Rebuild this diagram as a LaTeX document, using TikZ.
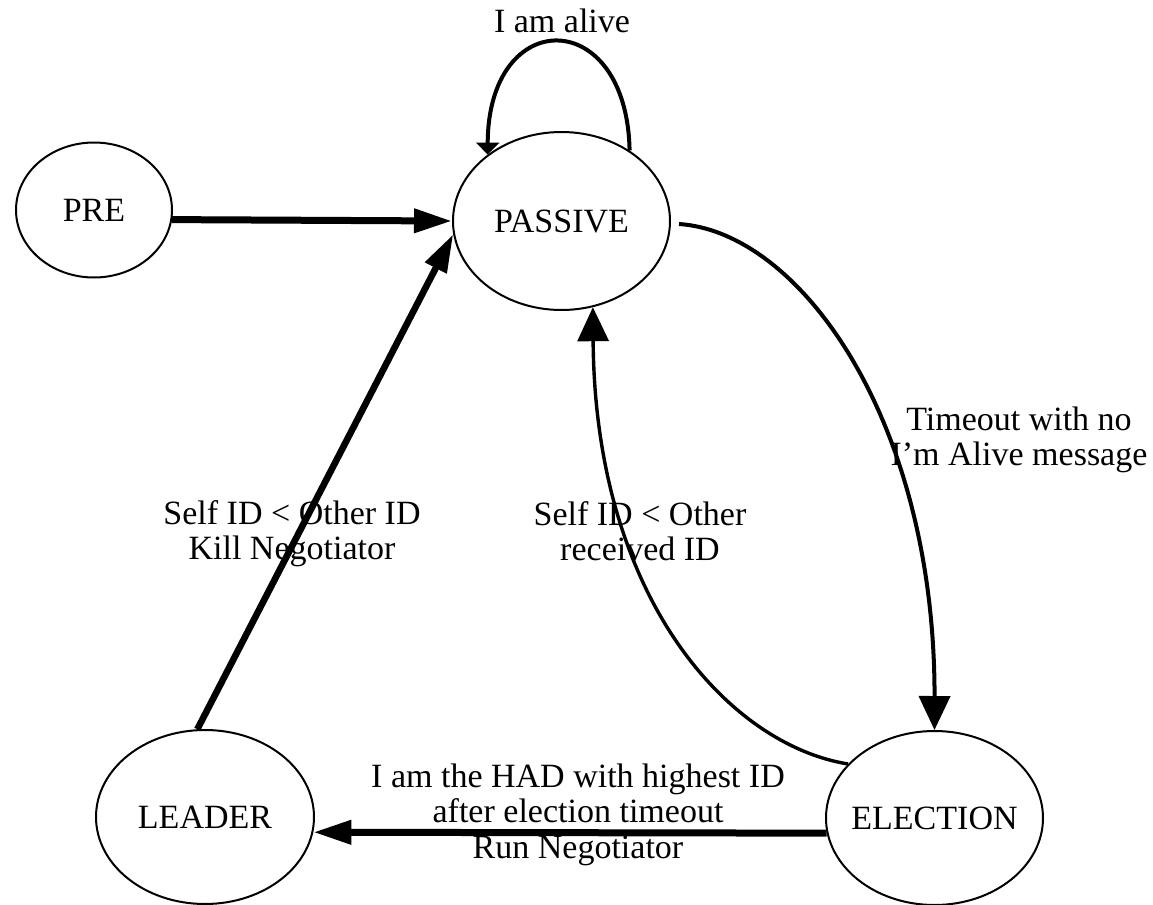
\documentclass[tikz,border=0pt]{standalone}
\usepackage{fontspec}
\setmainfont{Liberation Serif}
\usetikzlibrary{shapes.geometric,arrows.meta}
\newcommand{\labfont}{\fontsize{17pt}{17.75pt}\selectfont}
\tikzset{
  state/.style={ellipse, draw, line width=1pt, inner sep=-14pt, font=\labfont},
  lbl/.style={anchor=base, inner sep=0pt, font=\labfont},
  thickarrow/.style={line width=3.5pt, -{Triangle[length=19pt,width=11.5pt]}},
  curvearrow/.style={line width=1.8pt, -{Triangle[length=17pt,width=15.5pt]}},
}
\begin{document}
\begin{tikzpicture}[x=0.5pt,y=-0.5pt]
\useasboundingbox (0,0) rectangle (1153,905);

\node[state, minimum width=78pt, minimum height=67.5pt] (pre) at (94,210) {PRE};
\node[state, minimum width=108.5pt, minimum height=89pt] (passive) at (561.5,221) {PASSIVE};
\node[state, minimum width=109pt, minimum height=87pt] (leader) at (205,817) {LEADER};
\node[state, minimum width=108.5pt, minimum height=87pt] (election) at (934.5,818) {ELECTION};

% PRE -> PASSIVE
\draw[thickarrow] (pre.-7) -- (passive.west);

% self loop
\draw[line width=2pt, -{Triangle[length=6pt,width=11.5pt]}]
  (passive.46) .. controls (627,5) and (488,5) .. (passive.138);
\node[lbl] (alive) at (562,32) {I am alive};

% PASSIVE -> ELECTION
\draw[curvearrow, line width=2pt]
  ([xshift=4pt,yshift=-1.5pt]passive.east) .. controls (800,232) and (935,420) .. (election.north);
\node[lbl] (timeout) at (1019,430) {\begin{tabular}[t]{@{}c@{}}Timeout with no\\I'm Alive message\end{tabular}};

% ELECTION -> PASSIVE
\draw[curvearrow, line width=1.7pt]
  (election.148.4) .. controls (730,745) and (595,600) .. (passive.-70.3);
\node[lbl] (selfrecv) at (640,525) {\begin{tabular}[t]{@{}c@{}}Self ID {<} Other\\received ID\end{tabular}};

% LEADER -> PASSIVE
\draw[thickarrow, line width=3.3pt] (leader.95.3) -- (passive.187.8);
\node[lbl] (selfkill) at (292,524) {\begin{tabular}[t]{@{}c@{}}Self ID {<} Other ID\\Kill Negotiator\end{tabular}};

% ELECTION -> LEADER
\draw[thickarrow] (election.188.5) -- (leader.-8.35);
\node[lbl] (had) at (578,787) {\begin{tabular}[t]{@{}c@{}}I am the HAD with highest ID\\after election timeout\\Run Negotiator\end{tabular}};
\end{tikzpicture}
\end{document}
